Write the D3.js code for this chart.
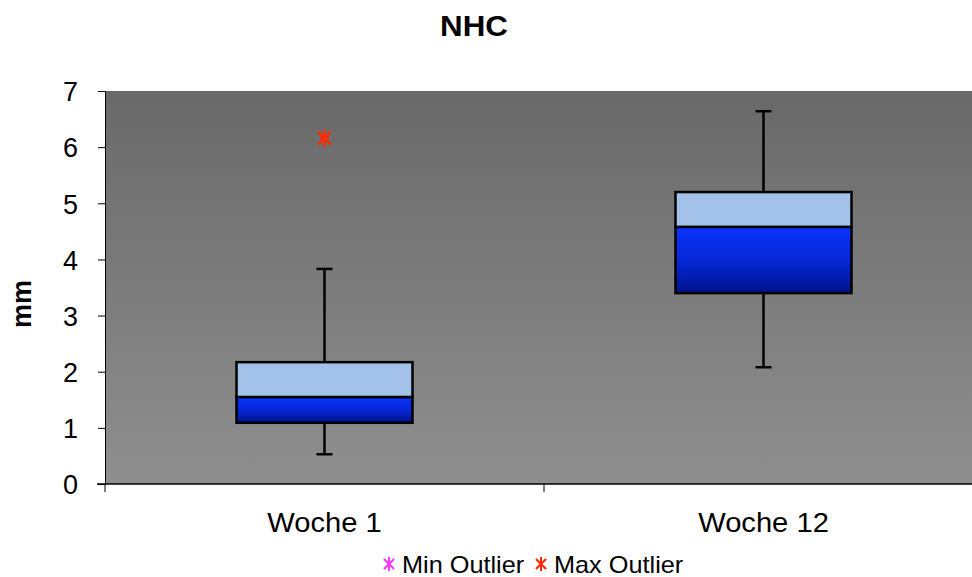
<!DOCTYPE html>
<html>
<head>
<meta charset="utf-8">
<script src="https://cdn.jsdelivr.net/npm/d3@7"></script>
<style>
  html, body { margin: 0; padding: 0; background: #fff; }
  svg { display: block; font-family: "Liberation Sans", Arial, sans-serif; }
</style>
</head>
<body>
<svg id="chart" width="972" height="577"></svg>
<script>
// Box plot statistics per week (mm)
const categories   = ["Woche 1", "Woche 12"];
const whiskerLow   = [0.53, 2.08];
const q1           = [1.09, 3.40];
const median       = [1.55, 4.58];
const q3           = [2.17, 5.20];
const whiskerHigh  = [3.83, 6.64];
const minOutliers  = [[], []];
const maxOutliers  = [[6.16], []];
const yTicks       = [0, 1, 2, 3, 4, 5, 6, 7];

const svg = d3.select("#chart");
const margin = { left: 105, top: 91, right: -11, bottom: 93 };
const W = 972, H = 577;
const x0 = margin.left, x1 = W - margin.right;
const yTop = margin.top, yBot = H - margin.bottom;

const x = d3.scaleBand().domain(categories).range([x0, x1]).paddingInner(0).paddingOuter(0);
const y = d3.scaleLinear().domain([0, 7]).range([yBot, yTop]);

const defs = svg.append("defs");
const bg = defs.append("linearGradient").attr("id", "bgGrad")
  .attr("x1", 0).attr("y1", 0).attr("x2", 0).attr("y2", 1);
bg.append("stop").attr("offset", "0%").attr("stop-color", "#696969");
bg.append("stop").attr("offset", "100%").attr("stop-color", "#8f8f8f");

const lowGrad = defs.append("linearGradient").attr("id", "lowGrad")
  .attr("x1", 0).attr("y1", 0).attr("x2", 0).attr("y2", 1);
lowGrad.append("stop").attr("offset", "0%").attr("stop-color", "#0a34ff");
lowGrad.append("stop").attr("offset", "55%").attr("stop-color", "#0526d0");
lowGrad.append("stop").attr("offset", "100%").attr("stop-color", "#00128a");

// Plot background
svg.append("rect")
  .attr("x", x0).attr("y", yTop)
  .attr("width", x1 - x0).attr("height", yBot - yTop)
  .attr("fill", "url(#bgGrad)");

// Title
svg.append("text")
  .attr("transform", "translate(474,36) scale(1.08,1)")
  .attr("text-anchor", "middle")
  .attr("font-size", 29).attr("font-weight", "bold")
  .text("NHC");

// Y axis title
svg.append("text")
  .attr("transform", "translate(31, 304) rotate(-90)")
  .attr("text-anchor", "middle")
  .attr("font-size", 27).attr("font-weight", "bold")
  .text("mm");

// Y axis
const yAxis = d3.axisLeft(y).tickValues(yTicks).tickSize(7).tickPadding(20).tickFormat(d3.format("d"));
const gy = svg.append("g").attr("transform", `translate(${x0},0)`).call(yAxis);
gy.select(".domain").attr("stroke", "#000").attr("stroke-width", 1);
gy.selectAll(".tick line").attr("stroke", "#000");
gy.selectAll(".tick text").attr("font-size", 27).attr("fill", "#000")
  .attr("font-family", "Liberation Sans, Arial, sans-serif").attr("dy", "0.36em");

// X axis: ticks at category boundaries
const boundaries = [x0].concat(categories.map(c => x(c) + x.bandwidth()));
const gx = svg.append("g");
gx.append("line").attr("x1", x0 - 8).attr("x2", x1).attr("y1", yBot).attr("y2", yBot)
  .attr("stroke", "#000").attr("stroke-width", 1.5);
gx.selectAll("line.tk").data(boundaries).join("line").attr("class", "tk")
  .attr("x1", d => d).attr("x2", d => d).attr("y1", yBot).attr("y2", yBot + 8)
  .attr("stroke", "#000").attr("stroke-width", 1);
gx.selectAll("text").data(categories).join("text")
  .attr("transform", d => `translate(${x(d) + x.bandwidth() / 2},532) scale(1.06,1)`)
  .attr("text-anchor", "middle").attr("font-size", 27.5)
  .text(d => d);

// Boxes
const boxW = 176, capW = 16;
const g = svg.append("g");
categories.forEach((c, i) => {
  const cx = x(c) + x.bandwidth() / 2;
  // whiskers
  g.append("line").attr("x1", cx).attr("x2", cx).attr("y1", y(q3[i])).attr("y2", y(whiskerHigh[i]))
    .attr("stroke", "#000").attr("stroke-width", 2.5);
  g.append("line").attr("x1", cx).attr("x2", cx).attr("y1", y(q1[i])).attr("y2", y(whiskerLow[i]))
    .attr("stroke", "#000").attr("stroke-width", 2.5);
  g.append("line").attr("x1", cx - capW / 2).attr("x2", cx + capW / 2)
    .attr("y1", y(whiskerHigh[i])).attr("y2", y(whiskerHigh[i]))
    .attr("stroke", "#000").attr("stroke-width", 2.5);
  g.append("line").attr("x1", cx - capW / 2).attr("x2", cx + capW / 2)
    .attr("y1", y(whiskerLow[i])).attr("y2", y(whiskerLow[i]))
    .attr("stroke", "#000").attr("stroke-width", 2.5);
  // lower half (Q1 - median)
  g.append("rect").attr("x", cx - boxW / 2).attr("y", y(median[i]))
    .attr("width", boxW).attr("height", y(q1[i]) - y(median[i]))
    .attr("fill", "url(#lowGrad)").attr("stroke", "#000").attr("stroke-width", 2.5);
  // upper half (median - Q3)
  g.append("rect").attr("x", cx - boxW / 2).attr("y", y(q3[i]))
    .attr("width", boxW).attr("height", y(median[i]) - y(q3[i]))
    .attr("fill", "#a2c2ea").attr("stroke", "#000").attr("stroke-width", 2.5);
});

// Asterisk marker: vertical bar plus an X, optionally a short horizontal bar
function asterisk(sel, cx, cy, r, color, sw, withBar) {
  const gg = sel.append("g").attr("transform", `translate(${cx},${cy})`)
    .attr("stroke", color).attr("stroke-width", sw);
  gg.append("line").attr("x1", 0).attr("x2", 0).attr("y1", -r).attr("y2", r);
  gg.append("line").attr("x1", -r * 0.72).attr("x2", r * 0.72).attr("y1", -r * 0.72).attr("y2", r * 0.72);
  gg.append("line").attr("x1", -r * 0.72).attr("x2", r * 0.72).attr("y1", r * 0.72).attr("y2", -r * 0.72);
  if (withBar) gg.append("line").attr("x1", -r * 0.5).attr("x2", r * 0.5).attr("y1", 0).attr("y2", 0);
  return gg;
}

categories.forEach((c, i) => {
  const cx = x(c) + x.bandwidth() / 2;
  maxOutliers[i].forEach(v => asterisk(g, cx, y(v), 9, "#ff2a00", 2.4, true));
  minOutliers[i].forEach(v => asterisk(g, cx, y(v), 9, "#ff33ff", 2.4, true));
});

// Legend
const legend = svg.append("g");
const legendItems = [
  { label: "Min Outlier", color: "#ff33ff", mx: 389, tx: 402 },
  { label: "Max Outlier", color: "#ff2a00", mx: 541, tx: 554 }
];
legendItems.forEach(d => {
  asterisk(legend, d.mx, 564, 7, d.color, 2, false);
  legend.append("text").attr("transform", `translate(${d.tx},573) scale(1.1,1)`)
    .attr("font-size", 23).text(d.label);
});
</script>
</body>
</html>
